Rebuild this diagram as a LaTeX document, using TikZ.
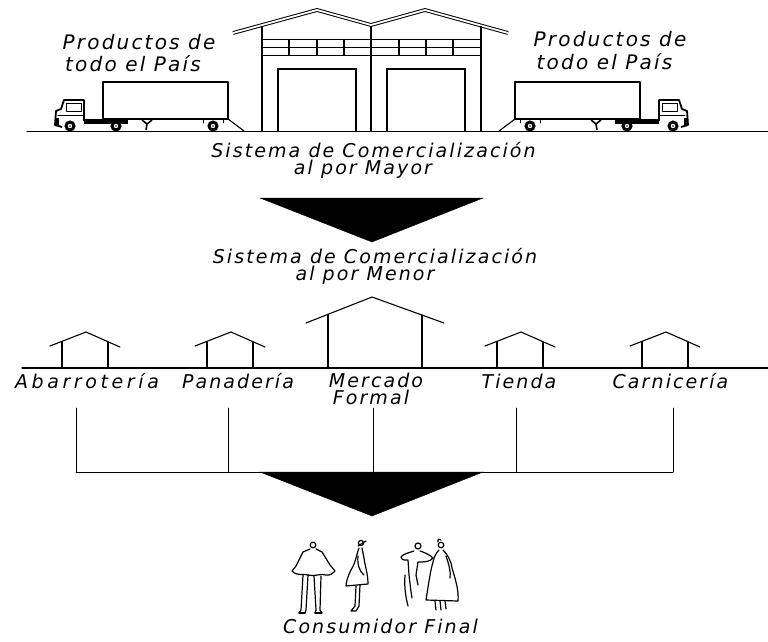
\documentclass[tikz,border=0pt]{standalone}
\usepackage{fontspec}
\setmainfont{DejaVu Sans}
\newfontfamily\cadfont{DejaVu Sans}[LetterSpace=11]
\newfontfamily\cadwide{DejaVu Sans}[LetterSpace=19]
\tikzset{
  x=1pt,y=-1pt,
  ln/.style={line width=1.1pt,line cap=round,line join=round},
  thin/.style={line width=0.9pt,line cap=round,line join=round},
  fig/.style={line width=1.2pt,line cap=round,line join=round},
  txtbig/.style={inner sep=0,anchor=base,font=\cadfont\itshape\fontsize{20}{20}\selectfont},
  txt/.style={inner sep=0,anchor=base,font=\cadfont\itshape\fontsize{19}{19}\selectfont},
  txtwide/.style={inner sep=0,anchor=base,font=\cadwide\itshape\fontsize{19}{19}\selectfont},
  arrowtri/.style={fill=black,draw=black},
  wheel/.style={fill=black},
}
\newcommand\mytruck{%
  % trailer
  \draw[ln] (103,82) rectangle (228,119);
  % ramp
  \draw[ln] (228,119) -- (244,131);
  % cab
  \draw[line width=1.8pt,line join=round] (84,121) -- (84,100) -- (64,100) -- (61,109) -- (56,111) -- (55,125) -- (62,127);
  \draw[thin] (66,103) rectangle (81,111);
  \draw[thin] (58,115) -- (83,115);
  \fill (55,118) rectangle (59,126);
  % chassis
  \fill (84,119) rectangle (128,123.5);
  % landing gear
  \draw[line width=1.6pt] (142,120) -- (147,124) -- (152,120) (147,124) -- (146,130);
  % trailer rear bracket
  \draw[thin] (203,119) -- (203,123) (223,119) -- (223,123);
  % wheels
  \foreach \wx in {70,116,213}{
    \fill[wheel] (\wx,126) circle (5.6);
    \fill[white] (\wx,126) circle (2.2);
    \fill (\wx,126) circle (0.9);
  }
}
\begin{document}
\begin{tikzpicture}
\useasboundingbox (0,0) rectangle (768,642);
\fill[white] (0,0) rectangle (768,642);

% ---------------- Top: warehouse and trucks ----------------
\draw[ln] (27,131.5) -- (768,131.5);
% roof (double line)
\draw[line width=1pt,double=white,double distance=1.8pt,line join=miter]
  (233,33) -- (317,10) -- (371,25) -- (425,10) -- (508,33);
% walls
\draw[line width=1.3pt] (262,26) -- (262,131.5);
\draw[line width=1.3pt] (371,26) -- (371,131.5);
\draw[line width=1.3pt] (481,26) -- (481,131.5);
% bands
\foreach \by in {39,47,55}{\draw[thin] (262,\by) -- (481,\by);}
\foreach \px in {289,317,344,399,426,453}{\draw[line width=1.6pt] (\px,39) -- (\px,55);}
% doors
\draw[line width=1.3pt] (278,69) rectangle (356,131.5);
\draw[line width=1.3pt] (387,69) rectangle (465,131.5);
% trucks
\begin{scope}\mytruck\end{scope}
\begin{scope}[shift={(743,0)},xscale=-1]\mytruck\end{scope}

\node[txtbig] (pl1) at (139,49) {Productos de};
\node[txtbig] (pl2) at (133,71) {todo el País};
\node[txtbig] (pr1) at (610,47) {Productos de};
\node[txtbig] (pr2) at (604.5,70) {todo el País};

\node[txt] (may1) at (373.5,157) {Sistema de Comercialización};
\node[txt] (may2) at (363,174) {al por Mayor};

% ---------------- Arrow 1 ----------------
\fill[arrowtri] (260,198) -- (483,198) -- (372,242) -- cycle;

\node[txt] (men1) at (375,263) {Sistema de Comercialización};
\node[txt] (men2) at (365,280) {al por Menor};

% ---------------- Retail ----------------
\draw[ln] (22,368) -- (768,368);
% small houses
\foreach \hx in {0,145,435,580}{
  \begin{scope}[xshift=\hx]
    \draw[ln] (50,346) -- (86,332) -- (120,347);
    \draw[ln] (62,341.5) -- (62,368);
    \draw[ln] (108,342.5) -- (108,368);
  \end{scope}
}
% mercado
\draw[ln] (306,323) -- (372,297) -- (444,323);
\draw[ln] (328,314.5) -- (328,368);
\draw[ln] (422,315) -- (422,368);

\node[txtwide] (aba) at (87,388) {Abarrotería};
\node[txt] (pan) at (238,388) {Panadería};
\node[txt] (mer) at (376,387) {Mercado};
\node[txt] (for) at (371,404) {Formal};
\node[txt] (tie) at (519,388) {Tienda};
\node[txt] (car) at (670.5,388) {Carnicería};

% connectors
\coordinate (b1) at (76,472);
\coordinate (b2) at (228,472);
\coordinate (b3) at (373,472);
\coordinate (b4) at (516,472);
\coordinate (b5) at (673,472);
\draw[thin] (76,408) -- (b1);
\draw[thin] (228,408) -- (b2);
\draw[thin] (373,408) -- (b3);
\draw[thin] (516,408) -- (b4);
\draw[thin] (673,408) -- (b5);
\draw[thin] (b1) -- (b5);

% ---------------- Arrow 2 ----------------
\fill[arrowtri] (260,472) -- (483,472) -- (372,516) -- cycle;

% ---------------- People ----------------
% man with poncho
\draw[fig] (313,545) circle (2.8);
\draw[fig] (310,549) -- (303,552) -- (296,566) -- (292,571)
  .. controls (298,577) and (303,573) .. (308,575)
  .. controls (315,577) and (320,573) .. (326,575)
  .. controls (330,576) and (333,573) .. (335,571)
  -- (330,565) -- (322,552) -- (316,549);
\draw[fig] (303,575) -- (301,610) -- (299,613);
\draw[fig] (308,575) -- (306,610) -- (305,613);
\draw[fig] (314,576) -- (316,610) -- (315,613);
\draw[fig] (321,576) -- (320,610) -- (322,613);
\draw[fig] (299,613) -- (305,613) (315,613) -- (322,613);

% woman
\draw[fig] (361,543) circle (2.6);
\draw[fig] (358,546) -- (366,541);
\draw[fig] (359,548) .. controls (356,556) and (356,562) .. (351,570)
  .. controls (348,576) and (346,582) .. (346,586)
  -- (368,584)
  .. controls (368,574) and (365,566) .. (364,558)
  -- (362,548);
\draw[fig] (358,556) .. controls (357,565) and (360,572) .. (364,575);
\draw[fig] (356,586) -- (355,606) -- (351,611) -- (356,611) -- (359,606) -- (360,585);

% couple
\draw[fig] (418,546) circle (3);
\draw[fig] (441,545) circle (2.8);
\draw[fig] (438,542) .. controls (437,539) and (440,538) .. (441,540);
% left person
\draw[fig] (414,551) .. controls (408,553) and (403,554) .. (401,557)
  .. controls (402,561) and (406,560) .. (408,560)
  -- (409,575) .. controls (410,584) and (411,592) .. (412,598);
\draw[fig] (420,551) .. controls (426,553) and (430,555) .. (433,558)
  .. controls (430,562) and (424,562) .. (418,562)
  -- (416,575) -- (418,585);
\draw[fig] (405,575) .. controls (404,588) and (406,598) .. (408,606);
% right person (dress)
\draw[fig] (439,550) .. controls (436,553) and (434,557) .. (433,562)
  .. controls (430,572) and (428,588) .. (426,600)
  -- (458,601)
  .. controls (459,590) and (455,578) .. (452,568)
  .. controls (451,560) and (447,554) .. (443,550);
\draw[fig] (446,556) .. controls (449,565) and (451,572) .. (450,578);
\draw[fig] (435,601) -- (436,610) (440,601) -- (441,610) (445,601) -- (446,609);

\node[txt] (con) at (380.5,633) {Consumidor Final};
\end{tikzpicture}
\end{document}
